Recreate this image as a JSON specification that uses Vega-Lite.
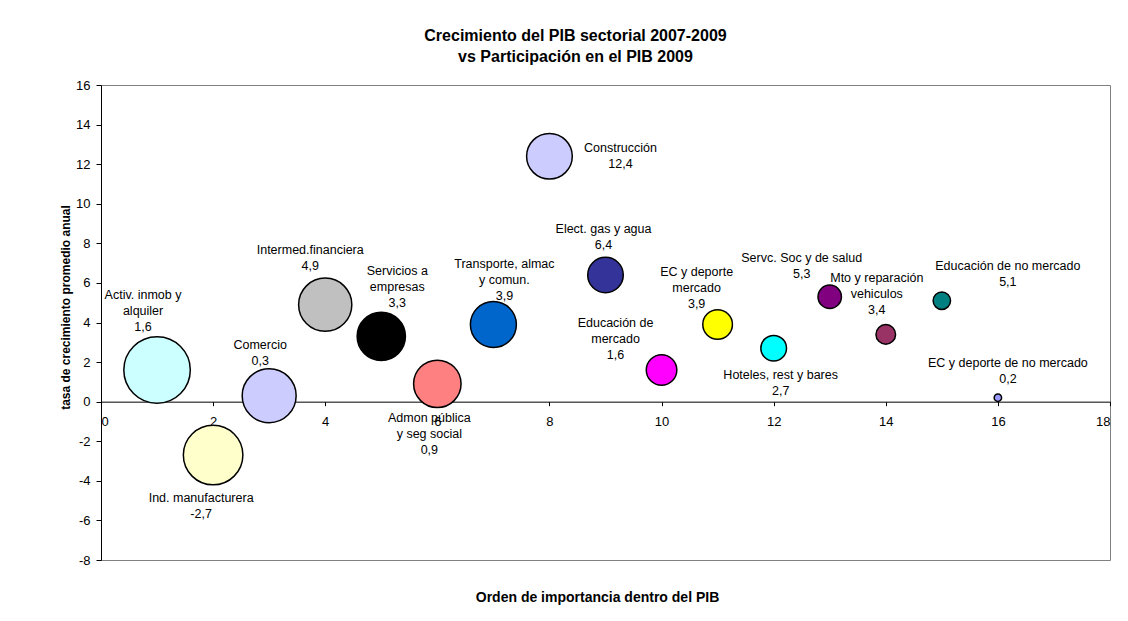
{
  "$schema": "https://vega.github.io/schema/vega-lite/v6.json",
  "width": 1009,
  "height": 475,
  "autosize": "none",
  "padding": {"left": 101, "top": 85, "right": 18, "bottom": 61},
  "background": "white",
  "title": {
    "text": ["Crecimiento del PIB sectorial 2007-2009", "vs Participación en el PIB 2009"],
    "fontSize": 16,
    "fontWeight": "bold",
    "font": "Liberation Sans",
    "color": "#000000",
    "lineHeight": 21,
    "dx": -30,
    "offset": 14,
    "anchor": "middle",
    "frame": "group"
  },
  "data": {
    "values": [
      {"orden": 1, "sector": "Activ. inmob y alquiler", "crecimiento": 1.6, "participacion": 16.1, "etiqueta": "Activ. inmob y\nalquiler\n1,6"},
      {"orden": 2, "sector": "Ind. manufacturera", "crecimiento": -2.7, "participacion": 12.9, "etiqueta": "Ind. manufacturera\n-2,7"},
      {"orden": 3, "sector": "Comercio", "crecimiento": 0.3, "participacion": 10.6, "etiqueta": "Comercio\n0,3"},
      {"orden": 4, "sector": "Intermed.financiera", "crecimiento": 4.9, "participacion": 10.3, "etiqueta": "Intermed.financiera\n4,9"},
      {"orden": 5, "sector": "Servicios a empresas", "crecimiento": 3.3, "participacion": 8.5, "etiqueta": "Servicios a\nempresas\n3,3"},
      {"orden": 6, "sector": "Admon pública y seg social", "crecimiento": 0.9, "participacion": 8.2, "etiqueta": "Admon pública\ny seg social\n0,9"},
      {"orden": 7, "sector": "Transporte, almac y comun.", "crecimiento": 3.9, "participacion": 7.7, "etiqueta": "Transporte, almac\ny comun.\n3,9"},
      {"orden": 8, "sector": "Construcción", "crecimiento": 12.4, "participacion": 7.6, "etiqueta": "Construcción\n12,4"},
      {"orden": 9, "sector": "Elect. gas y agua", "crecimiento": 6.4, "participacion": 4.6, "etiqueta": "Elect. gas y agua\n6,4"},
      {"orden": 10, "sector": "Educación de mercado", "crecimiento": 1.6, "participacion": 3.4, "etiqueta": "Educación de\nmercado\n1,6"},
      {"orden": 11, "sector": "EC y deporte mercado", "crecimiento": 3.9, "participacion": 3.2, "etiqueta": "EC y deporte\nmercado\n3,9"},
      {"orden": 12, "sector": "Hoteles, rest y bares", "crecimiento": 2.7, "participacion": 2.4, "etiqueta": "Hoteles, rest y bares\n2,7"},
      {"orden": 13, "sector": "Servc. Soc y de salud", "crecimiento": 5.3, "participacion": 2.0, "etiqueta": "Servc. Soc y de salud\n5,3"},
      {"orden": 14, "sector": "Mto y reparación vehiculos", "crecimiento": 3.4, "participacion": 1.4, "etiqueta": "Mto y reparación\nvehiculos\n3,4"},
      {"orden": 15, "sector": "Educación de no mercado", "crecimiento": 5.1, "participacion": 1.1, "etiqueta": "Educación de no mercado\n5,1"},
      {"orden": 16, "sector": "EC y deporte de no mercado", "crecimiento": 0.2, "participacion": 0.2, "etiqueta": "EC y deporte de no mercado\n0,2"}
    ]
  },
  "encoding": {
    "x": {
      "field": "orden",
      "type": "quantitative",
      "scale": {"domain": [0, 18], "nice": false, "zero": false},
      "axis": {
        "orient": "bottom",
        "offset": -158.33,
        "values": [0, 2, 4, 6, 8, 10, 12, 14, 16, 18],
        "grid": false,
        "domainColor": "#000000",
        "tickColor": "#000000",
        "tickSize": 4,
        "labelPadding": 10,
        "labelFontSize": 13,
        "labelColor": "#000000",
        "title": "Orden de importancia dentro del PIB",
        "titleFontSize": 14,
        "titleFontWeight": "bold",
        "titleColor": "#000000",
        "titleX": 496,
        "titleY": 195.5,
        "titleAlign": "center",
        "titleBaseline": "middle"
      }
    },
    "y": {
      "field": "crecimiento",
      "type": "quantitative",
      "scale": {"domain": [-8, 16], "nice": false, "zero": false},
      "axis": {
        "values": [-8, -6, -4, -2, 0, 2, 4, 6, 8, 10, 12, 14, 16],
        "grid": false,
        "domainColor": "#000000",
        "tickColor": "#000000",
        "tickSize": 5,
        "labelPadding": 6,
        "labelFontSize": 13,
        "labelColor": "#000000",
        "title": "tasa de crecimiento promedio anual",
        "titleFontSize": 12,
        "titleFontWeight": "bold",
        "titleColor": "#000000",
        "titleAngle": 270,
        "titleX": -36,
        "titleY": 222,
        "titleAlign": "center",
        "titleBaseline": "middle"
      }
    }
  },
  "layer": [
    {
      "mark": {"type": "circle", "opacity": 1, "stroke": "#000000", "strokeWidth": 1.5},
      "encoding": {
        "size": {
          "field": "participacion",
          "type": "quantitative",
          "scale": {"type": "linear", "domain": [0, 20], "range": [0, 5493], "zero": true},
          "legend": null
        },
        "color": {
          "field": "sector",
          "type": "nominal",
          "legend": null,
          "scale": {
            "domain": ["Activ. inmob y alquiler", "Ind. manufacturera", "Comercio", "Intermed.financiera", "Servicios a empresas", "Admon pública y seg social", "Transporte, almac y comun.", "Construcción", "Elect. gas y agua", "Educación de mercado", "EC y deporte mercado", "Hoteles, rest y bares", "Servc. Soc y de salud", "Mto y reparación vehiculos", "Educación de no mercado", "EC y deporte de no mercado"],
            "range": ["#CCFFFF", "#FFFFCC", "#CCCCFF", "#C0C0C0", "#000000", "#FF8080", "#0066CC", "#CCCCFF", "#333399", "#FF00FF", "#FFFF00", "#00FFFF", "#800080", "#993366", "#008080", "#9999FF"]
          }
        }
      }
    },
    {"transform": [{"filter": "datum.orden == 1"}], "mark": {"type": "text", "dx": -14, "dy": -75}, "encoding": {"text": {"field": "etiqueta"}}},
    {"transform": [{"filter": "datum.orden == 2"}], "mark": {"type": "text", "dx": -12, "dy": 43}, "encoding": {"text": {"field": "etiqueta"}}},
    {"transform": [{"filter": "datum.orden == 3"}], "mark": {"type": "text", "dx": -9, "dy": -51}, "encoding": {"text": {"field": "etiqueta"}}},
    {"transform": [{"filter": "datum.orden == 4"}], "mark": {"type": "text", "dx": -15, "dy": -55}, "encoding": {"text": {"field": "etiqueta"}}},
    {"transform": [{"filter": "datum.orden == 5"}], "mark": {"type": "text", "dx": 16, "dy": -65}, "encoding": {"text": {"field": "etiqueta"}}},
    {"transform": [{"filter": "datum.orden == 6"}], "mark": {"type": "text", "dx": -8, "dy": 34}, "encoding": {"text": {"field": "etiqueta"}}},
    {"transform": [{"filter": "datum.orden == 7"}], "mark": {"type": "text", "dx": 11, "dy": -60}, "encoding": {"text": {"field": "etiqueta"}}},
    {"transform": [{"filter": "datum.orden == 8"}], "mark": {"type": "text", "dx": 71, "dy": -8}, "encoding": {"text": {"field": "etiqueta"}}},
    {"transform": [{"filter": "datum.orden == 9"}], "mark": {"type": "text", "dx": -2, "dy": -46}, "encoding": {"text": {"field": "etiqueta"}}},
    {"transform": [{"filter": "datum.orden == 10"}], "mark": {"type": "text", "dx": -46, "dy": -47}, "encoding": {"text": {"field": "etiqueta"}}},
    {"transform": [{"filter": "datum.orden == 11"}], "mark": {"type": "text", "dx": -21, "dy": -52}, "encoding": {"text": {"field": "etiqueta"}}},
    {"transform": [{"filter": "datum.orden == 12"}], "mark": {"type": "text", "dx": 7, "dy": 26.5}, "encoding": {"text": {"field": "etiqueta"}}},
    {"transform": [{"filter": "datum.orden == 13"}], "mark": {"type": "text", "dx": -28, "dy": -38.5}, "encoding": {"text": {"field": "etiqueta"}}},
    {"transform": [{"filter": "datum.orden == 14"}], "mark": {"type": "text", "dx": -9, "dy": -56}, "encoding": {"text": {"field": "etiqueta"}}},
    {"transform": [{"filter": "datum.orden == 15"}], "mark": {"type": "text", "dx": 66, "dy": -35}, "encoding": {"text": {"field": "etiqueta"}}},
    {"transform": [{"filter": "datum.orden == 16"}], "mark": {"type": "text", "dx": 10, "dy": -35}, "encoding": {"text": {"field": "etiqueta"}}}
  ],
  "config": {
    "font": "Liberation Sans",
    "locale": {"number": {"decimal": ",", "thousands": ".", "grouping": [3], "currency": ["$", ""], "minus": "-"}},
    "view": {"stroke": "#808080", "strokeWidth": 1},
    "text": {"fontSize": 12.5, "lineBreak": "\n", "lineHeight": 16, "baseline": "middle", "align": "center", "color": "#000000", "font": "Liberation Sans"},
    "axis": {"labelFont": "Liberation Sans", "titleFont": "Liberation Sans"}
  }
}
